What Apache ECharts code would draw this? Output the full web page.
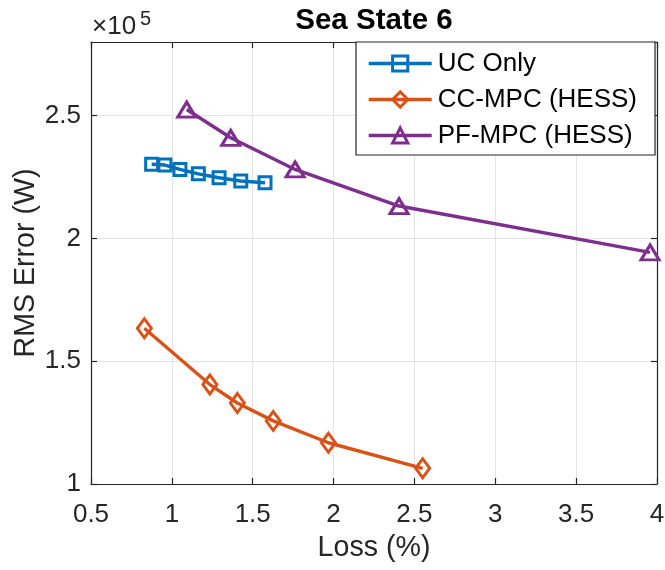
<!DOCTYPE html>
<html>
<head>
<meta charset="utf-8">
<script src="https://cdn.jsdelivr.net/npm/echarts@6/dist/echarts.min.js"></script>
<style>
  html, body { margin: 0; padding: 0; background: #fff; }
  #chart { width: 665px; height: 570px; }
</style>
</head>
<body>
<div id="chart"></div>
<script>
// Loss (%) vs RMS error (W) for each control strategy, sea state 6
const ucLoss = [0.875, 0.957, 1.050, 1.164, 1.292, 1.426, 1.576];
const ucRms  = [230200, 229900, 228100, 226300, 224700, 223400, 222700];

const ccLoss = [0.830, 1.235, 1.405, 1.627, 1.968, 2.551];
const ccRms  = [163400, 140500, 133000, 125700, 116800, 106400];

const pfLoss = [1.092, 1.364, 1.762, 2.405, 3.957];
const pfRms  = [252500, 241000, 228100, 213200, 194300];

const seriesNames = ['UC Only', 'CC-MPC (HESS)', 'PF-MPC (HESS)'];
const xTicks = [0.5, 1, 1.5, 2, 2.5, 3, 3.5, 4];
const yTicks = [1, 1.5, 2, 2.5];   // ×10^5

const FONT = '"Liberation Sans", Arial, Helvetica, sans-serif';
const AXIS_COLOR = '#262626';
const colors = ['#0072BD', '#D95319', '#7E2F8E'];

function pairs(xs, ys) { return xs.map((x, i) => [x, ys[i]]); }

function lineSeries(name, data, color, symbol, size) {
  return {
    name: name,
    type: 'line',
    data: data,
    clip: false,
    symbol: symbol,
    symbolSize: size,
    showAllSymbol: true,
    lineStyle: { color: color, width: 3.4 },
    itemStyle: { color: 'rgba(0,0,0,0)', borderColor: color, borderWidth: 3 },
    emphasis: { disabled: true },
    animation: false
  };
}

const tickAxisCommon = {
  axisLine: { show: true, lineStyle: { color: AXIS_COLOR, width: 1.2 } },
  axisTick: { show: true, inside: true, length: 6, lineStyle: { color: AXIS_COLOR, width: 1.2 } },
  splitLine: { show: false },
  axisLabel: { show: false }
};

const chart = echarts.init(document.getElementById('chart'), null, { renderer: 'canvas' });

chart.setOption({
  backgroundColor: '#ffffff',
  animation: false,
  grid: { left: 91, right: 8, top: 42, bottom: 86, containLabel: false, outerBoundsMode: 'none' },
  xAxis: [
    {
      type: 'value',
      position: 'bottom',
      min: xTicks[0], max: xTicks[xTicks.length - 1], interval: 0.5,
      axisLine: { show: true, lineStyle: { color: AXIS_COLOR, width: 1.2 } },
      axisTick: { show: true, inside: true, length: 6, lineStyle: { color: AXIS_COLOR, width: 1.2 } },
      splitLine: { show: true, lineStyle: { color: '#e3e3e3', width: 1 } },
      axisLabel: {
        fontFamily: FONT, fontSize: 26, color: AXIS_COLOR, margin: 18,
        formatter: v => (xTicks.indexOf(v) >= 0 ? String(v) : '')
      }
    },
    Object.assign({
      type: 'value', position: 'top',
      min: xTicks[0], max: xTicks[xTicks.length - 1], interval: 0.5
    }, tickAxisCommon)
  ],
  yAxis: [
    {
      type: 'value',
      position: 'left',
      min: 100000, max: 280000, interval: 50000,
      axisLine: { show: true, lineStyle: { color: AXIS_COLOR, width: 1.2 } },
      axisTick: { show: true, inside: true, length: 6, lineStyle: { color: AXIS_COLOR, width: 1.2 } },
      splitLine: { show: true, lineStyle: { color: '#e3e3e3', width: 1 } },
      axisLabel: {
        fontFamily: FONT, fontSize: 26, color: AXIS_COLOR, margin: 10,
        showMaxLabel: false,
        formatter: v => {
          const s = v / 100000;
          return yTicks.indexOf(s) >= 0 ? String(s) : '';
        }
      }
    },
    Object.assign({
      type: 'value', position: 'right',
      min: 100000, max: 280000, interval: 50000
    }, tickAxisCommon)
  ],
  legend: {
    orient: 'vertical',
    left: 356,
    top: 42,
    padding: [8, 18, 6, 11],
    itemGap: 9,
    itemWidth: 63,
    itemHeight: 19,
    itemStyle: { color: 'rgba(0,0,0,0)', borderWidth: 3 },
    lineStyle: { width: 3.4 },
    backgroundColor: '#ffffff',
    borderColor: AXIS_COLOR,
    borderWidth: 1.2,
    borderRadius: 0,
    textStyle: { fontFamily: FONT, fontSize: 26, color: '#000', lineHeight: 27, padding: [0, 0, 0, 1] },
    data: seriesNames
  },
  graphic: [
    {
      type: 'text', x: 374, y: 21,
      style: {
        text: 'Sea State 6', font: 'bold 29.5px ' + FONT, fill: '#000',
        align: 'center', verticalAlign: 'middle'
      }
    },
    {
      type: 'text', x: 92, y: 27,
      style: {
        text: '×10', font: '26px ' + FONT, fill: AXIS_COLOR,
        align: 'left', verticalAlign: 'middle'
      }
    },
    {
      type: 'text', x: 140, y: 19,
      style: {
        text: '5', font: '20px ' + FONT, fill: AXIS_COLOR,
        align: 'left', verticalAlign: 'middle'
      }
    },
    {
      type: 'text', x: 374, y: 548,
      style: {
        text: 'Loss (%)', font: '28.6px ' + FONT, fill: AXIS_COLOR,
        align: 'center', verticalAlign: 'middle'
      }
    },
    {
      type: 'text', x: 26, y: 263, rotation: Math.PI / 2,
      style: {
        text: 'RMS Error (W)', font: '28.6px ' + FONT, fill: AXIS_COLOR,
        align: 'center', verticalAlign: 'middle'
      }
    }
  ],
  series: [
    lineSeries(seriesNames[0], pairs(ucLoss, ucRms), colors[0], 'rect', 12),
    lineSeries(seriesNames[1], pairs(ccLoss, ccRms), colors[1], 'diamond', [14, 19]),
    lineSeries(seriesNames[2], pairs(pfLoss, pfRms), colors[2], 'triangle', [18, 15])
  ]
});
</script>
</body>
</html>
